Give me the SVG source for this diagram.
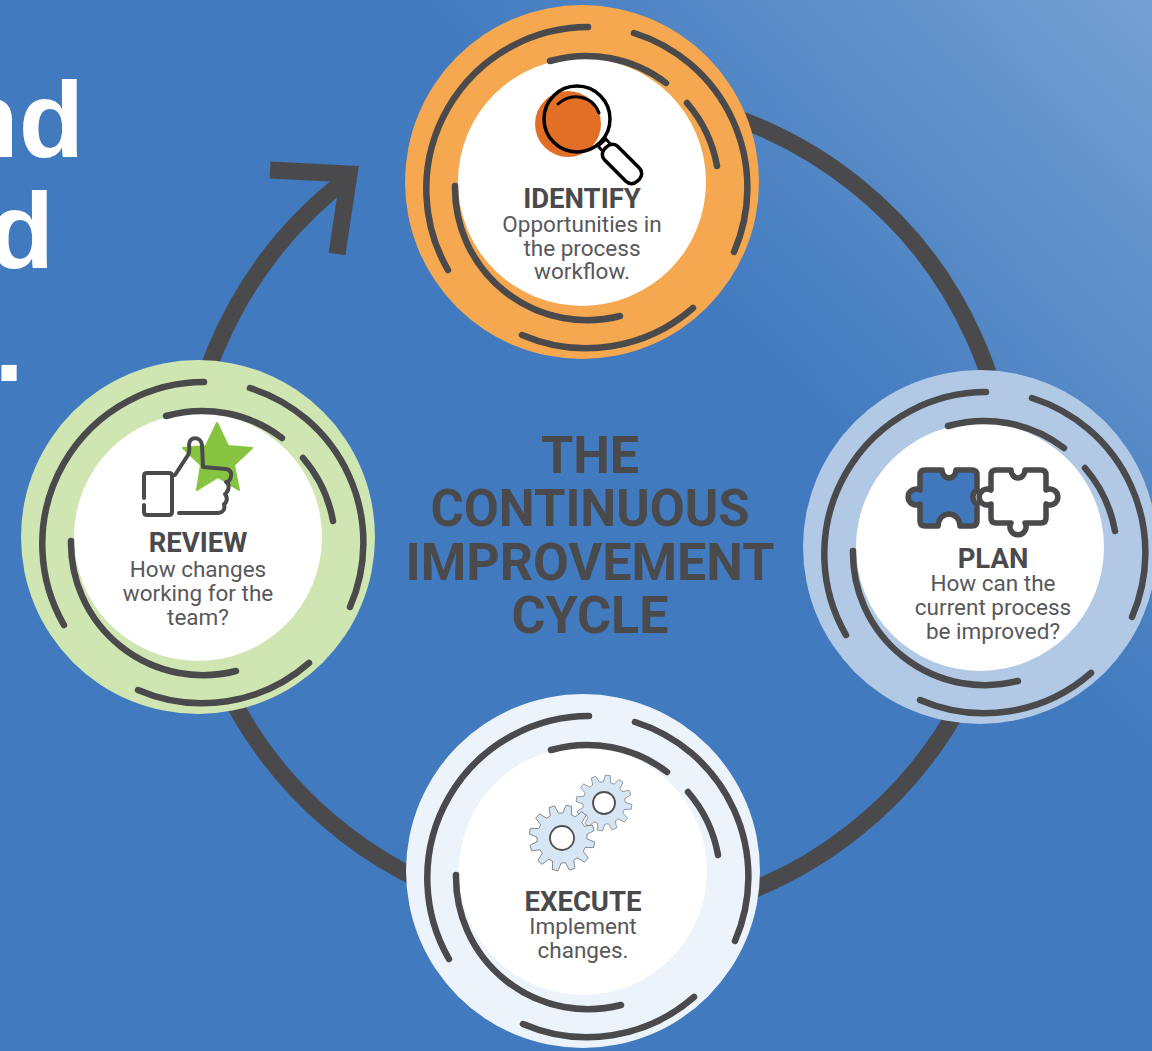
<svg xmlns="http://www.w3.org/2000/svg" width="1152" height="1051" viewBox="0 0 1152 1051">
<style>
.ink{fill:none;stroke:#4a4a4c;stroke-linecap:round;stroke-linejoin:round}
.head{font:700 27.5px Roboto,"Liberation Sans",sans-serif;fill:#4a4a4c;text-anchor:middle}
.body{font:400 22.5px Roboto,"Liberation Sans",sans-serif;fill:#58585a;text-anchor:middle}
.title{font:700 52px Roboto,"Liberation Sans",sans-serif;fill:#4a4a4c;text-anchor:middle}
.big{font:700 107px "Liberation Sans",Arial,sans-serif;fill:#fff;text-anchor:end}
.gear{fill:#d6e6f4;stroke:#4f4f51;stroke-width:1.8;stroke-linejoin:round;vector-effect:non-scaling-stroke}
.hole{fill:#fff;stroke:#4f4f51;stroke-width:1.8;vector-effect:non-scaling-stroke}
</style>
<defs>
<linearGradient id="bg" gradientUnits="userSpaceOnUse" x1="1152" y1="0" x2="770" y2="370">
<stop offset="0" stop-color="#75a0d2"/><stop offset="1" stop-color="#417abf"/>
</linearGradient>
<g id="dial">
<circle cx="582" cy="182" r="177"/>
<circle cx="582" cy="182" r="124" fill="#fff"/>
<path class="ink" stroke-width="6.5" d="M588 27A162 162 0 0 0 448 270M634 33A162 162 0 0 1 734 252M522 335A162 162 0 0 0 693 308M550 61A132 132 0 0 1 666 83M687 103A132 132 0 0 1 717 166M455 186A132 132 0 0 0 620 316"/>
</g>
<path id="gearShape" d="M74.8 -13.2L99.6 -8.7L99.6 8.7L74.8 13.2L71.4 26L90.6 42.3L81.9 57.4L58.2 48.9L48.9 58.2L57.4 81.9L42.3 90.6L26 71.4L13.2 74.8L8.7 99.6L-8.7 99.6L-13.2 74.8L-26 71.4L-42.3 90.6L-57.4 81.9L-48.9 58.2L-58.2 48.9L-81.9 57.4L-90.6 42.3L-71.4 26L-74.8 13.2L-99.6 8.7L-99.6 -8.7L-74.8 -13.2L-71.4 -26L-90.6 -42.3L-81.9 -57.4L-58.2 -48.9L-48.9 -58.2L-57.4 -81.9L-42.3 -90.6L-26 -71.4L-13.2 -74.8L-8.7 -99.6L8.7 -99.6L13.2 -74.8L26 -71.4L42.3 -90.6L57.4 -81.9L48.9 -58.2L58.2 -48.9L81.9 -57.4L90.6 -42.3L71.4 -26Z"/>
</defs>
<rect id="background" width="1152" height="1051" fill="url(#bg)"/>
<g id="side-text">
<text class="big" x="84" y="157">nd</text>
<text class="big" x="54" y="268">d</text>
<text class="big" x="24" y="381">.</text>
</g>
<g id="connectors">
<path d="M352 175A413 413 0 1 0 700 107" fill="none" stroke="#4a4a4c" stroke-width="17"/>
<path d="M270 170L349 174L337 254" fill="none" stroke="#4a4a4c" stroke-width="17"/>
</g>
<g id="title">
<text class="title" x="590" y="473">THE</text>
<text class="title" x="590" y="526" textLength="319" lengthAdjust="spacingAndGlyphs">CONTINUOUS</text>
<text class="title" x="590" y="580">IMPROVEMENT</text>
<text class="title" x="590" y="633">CYCLE</text>
</g>
<g id="identify">
<use href="#dial" fill="#f5a84f"/>
<circle cx="568" cy="124" r="33" fill="#e36f26"/>
<circle cx="577" cy="119" r="33" fill="none" stroke="#000" stroke-width="3.5"/>
<path d="M558 104C570 93 592 94 599 113" fill="none" stroke="#000" stroke-width="3" stroke-linecap="round"/>
<path d="M598 146L606 139L613 147L605 154Z" fill="#fff" stroke="#000" stroke-width="3"/>
<rect x="599" y="154.500" width="46" height="19" rx="8" transform="rotate(45 622 164)" fill="#fff" stroke="#000" stroke-width="3.500"/>
<text class="head" x="582" y="208">IDENTIFY</text>
<text class="body" x="582" y="232">Opportunities in</text>
<text class="body" x="582" y="256">the process</text>
<text class="body" x="582" y="279">workflow.</text>
</g>
<g id="plan">
<use href="#dial" fill="#b1c9e5" transform="translate(398 365)"/>
<path d="M925 470H942A7 8 0 0 0 956 470H972Q977 470 977 475V490A8 8 0 0 0 977 504V521Q977 526 972 526H960A11 12 0 0 0 938 526H925Q920 526 920 521V504A8 8 0 1 1 920 490V475Q920 470 925 470Z" fill="#3f78bc" stroke="#4a4a4c" stroke-width="5.500" stroke-linejoin="round"/>
<path d="M996 470H1011A7 8 0 0 0 1025 470H1041Q1046 470 1046 475V490A8 8 0 1 1 1046 504V518Q1046 523 1041 523H1025A8 8 0 1 1 1011 523H996Q991 523 991 518V504A8 8 0 1 1 991 490V475Q991 470 996 470Z" fill="#fff" stroke="#4a4a4c" stroke-width="5.500" stroke-linejoin="round"/>
<text class="head" x="993" y="568">PLAN</text>
<text class="body" x="993" y="591">How can the</text>
<text class="body" x="993" y="615">current process</text>
<text class="body" x="993" y="639">be improved?</text>
</g>
<g id="execute">
<use href="#dial" fill="#ecf3fb" transform="translate(1 689)"/>
<use href="#gearShape" class="gear" transform="translate(604 803) rotate(8) scale(.28)"/>
<circle class="hole" cx="604" cy="803" r="11"/>
<use href="#gearShape" class="gear" transform="translate(562 838) rotate(12) scale(.33)"/>
<circle class="hole" cx="562" cy="838" r="12"/>
<text class="head" x="583" y="911">EXECUTE</text>
<text class="body" x="583" y="934">Implement</text>
<text class="body" x="583" y="958">changes.</text>
</g>
<g id="review">
<use href="#dial" fill="#d0e6b2" transform="translate(-384 355)"/>
<path d="M217 423L228 446L252 448L234 465L239 490L218 477L197 490L201 465L183 448L206 446Z" fill="#86c440" stroke="#86c440" stroke-width="2" stroke-linejoin="round"/>
<path class="ink" stroke-width="4" d="M144 498V476Q144 473 147 473H169Q172 473 172 476V512Q172 515 169 515H147Q144 515 144 512V505M175 475L188 455Q190 451 189 445C189 436 201 436 202 445L203 467L226 469Q232 470 231 476Q230 482 226 482Q230 484 228 490Q226 494 225 494Q228 498 226 502Q225 504 224 504Q226 512 218 513H179"/>
<text class="head" x="198" y="552">REVIEW</text>
<text class="body" x="198" y="577">How changes</text>
<text class="body" x="198" y="601">working for the</text>
<text class="body" x="198" y="625">team?</text>
</g>
</svg>
